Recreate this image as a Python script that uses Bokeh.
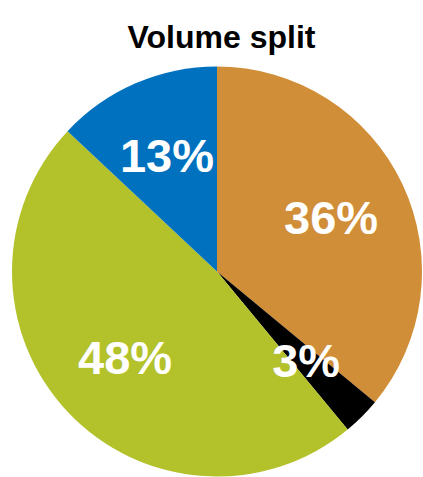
import math
from bokeh.plotting import figure
from bokeh.models import ColumnDataSource, Label
from bokeh.core.properties import value
from bokeh.embed import file_html
from bokeh.resources import INLINE

# ---- data ----
categories = ["A", "B", "C", "D"]
shares = [36, 3, 48, 13]
labels = ["36%", "3%", "48%", "13%"]
colors = ["#D18E38", "#000000", "#B3C12A", "#0071BF"]
title_text = "Volume split"

# ---- layout (pixel units) ----
W, H = 423, 477
cx, cy, R = 216.5, 206, 205
label_frac = 0.615

total = sum(shares)
starts, ends, lx, ly = [], [], [], []
acc = 0.0
for s in shares:
    a0 = math.pi / 2 - 2 * math.pi * acc / total
    acc += s
    a1 = math.pi / 2 - 2 * math.pi * acc / total
    starts.append(a0)
    ends.append(a1)
    mid = (a0 + a1) / 2
    lx.append(cx + label_frac * R * math.cos(mid))
    ly.append(cy + label_frac * R * math.sin(mid))

src = ColumnDataSource(dict(cat=categories, start=starts, end=ends,
                            color=colors, lx=lx, ly=ly, label=labels))

p = figure(width=W, height=H, x_range=(0, W), y_range=(0, H),
           output_backend="svg", toolbar_location=None, min_border=0)
p.axis.visible = False
p.grid.visible = False
p.outline_line_color = None
p.background_fill_color = "white"
p.border_fill_color = "white"

p.wedge(x=cx, y=cy, radius=R, start_angle="start", end_angle="end",
        direction="clock", fill_color="color", line_color=None, source=src)

p.text(x="lx", y="ly", text="label", source=src, text_align="center",
       text_baseline="middle", text_color="white",
       text_font=value("Liberation Sans"), text_font_style="bold",
       text_font_size="47px")

p.add_layout(Label(x=221, y=441, text=title_text, text_align="center",
                   text_baseline="alphabetic", text_font="Liberation Sans",
                   text_font_style="bold", text_font_size="32px",
                   text_color="black"))

open("out.html", "w").write(file_html(p, INLINE))
